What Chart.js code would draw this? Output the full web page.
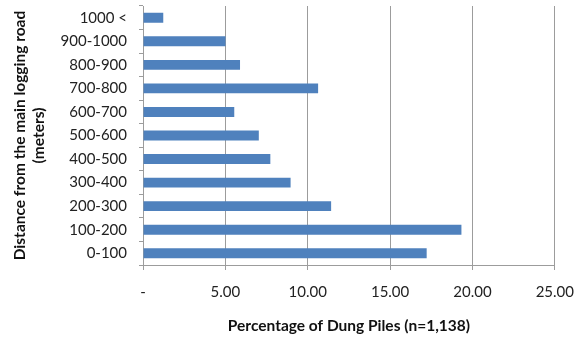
<!DOCTYPE html>
<html>
<head>
<meta charset="utf-8">
<script src="https://cdn.jsdelivr.net/npm/chart.js@4/dist/chart.umd.min.js"></script>
<style>
  html, body { margin: 0; padding: 0; background: #fff; }
  #wrap { width: 587px; height: 337px; }
</style>
</head>
<body>
<div id="wrap"><canvas id="c" width="587" height="337"></canvas></div>
<script>
// Distance bands from the main logging road (nearest first)
const distanceBands = ['0-100', '100-200', '200-300', '300-400', '400-500', '500-600',
                       '600-700', '700-800', '800-900', '900-1000', '1000 <'];
// Share of dung piles found in each band (%), n = 1,138
const dungPilePercent = [17.22, 19.33, 11.42, 8.96, 7.73, 7.03, 5.54, 10.63, 5.89, 5.01, 1.23];
// Percentage axis ticks
const percentTicks = [0, 5, 10, 15, 20, 25];

const FONT = 'Lato, "Open Sans", sans-serif';
const GRID = '#9c9c9c';

new Chart(document.getElementById('c'), {
  type: 'bar',
  data: {
    labels: distanceBands,
    datasets: [{
      data: dungPilePercent,
      backgroundColor: '#4F81BD',
      borderWidth: 0,
      barPercentage: 0.42,
      categoryPercentage: 1.0
    }]
  },
  options: {
    indexAxis: 'y',
    responsive: false,
    animation: false,
    layout: { padding: { top: 6, right: 29, bottom: 0, left: 0 } },
    plugins: { legend: { display: false }, tooltip: { enabled: false } },
    scales: {
      x: {
        min: percentTicks[0],
        max: percentTicks[percentTicks.length - 1],
        afterBuildTicks: s => { s.ticks = percentTicks.map(v => ({ value: v })); },
        afterFit: s => { s.height = 72; },
        border: { color: GRID, width: 1 },
        grid: { color: GRID, lineWidth: 1, tickLength: 5, drawTicks: true },
        ticks: {
          padding: 13,
          color: '#222',
          font: { family: FONT, size: 15 },
          callback: v => v === 0 ? '-' : v.toFixed(2)
        },
        title: {
          display: true,
          text: 'Percentage of Dung Piles (n=1,138)',
          color: '#111',
          font: { family: FONT, size: 15.5, weight: 'bold' },
          padding: { top: 0, bottom: 2 }
        }
      },
      y: {
        reverse: true,
        offset: true,
        afterFit: s => { s.width = 143; s.paddingTop = 0; s.paddingBottom = 0; },
        border: { color: GRID, width: 1 },
        grid: { drawOnChartArea: false, drawTicks: true, tickLength: 4, offset: true, color: GRID },
        ticks: {
          padding: 12,
          color: '#222',
          font: { family: FONT, size: 15 }
        },
        title: {
          display: true,
          text: ['Distance from the main logging road', '(meters)'],
          color: '#111',
          font: { family: FONT, size: 15.5, weight: 'bold' },
          padding: { top: 11, bottom: 0 }
        }
      }
    }
  }
});
</script>
</body>
</html>
